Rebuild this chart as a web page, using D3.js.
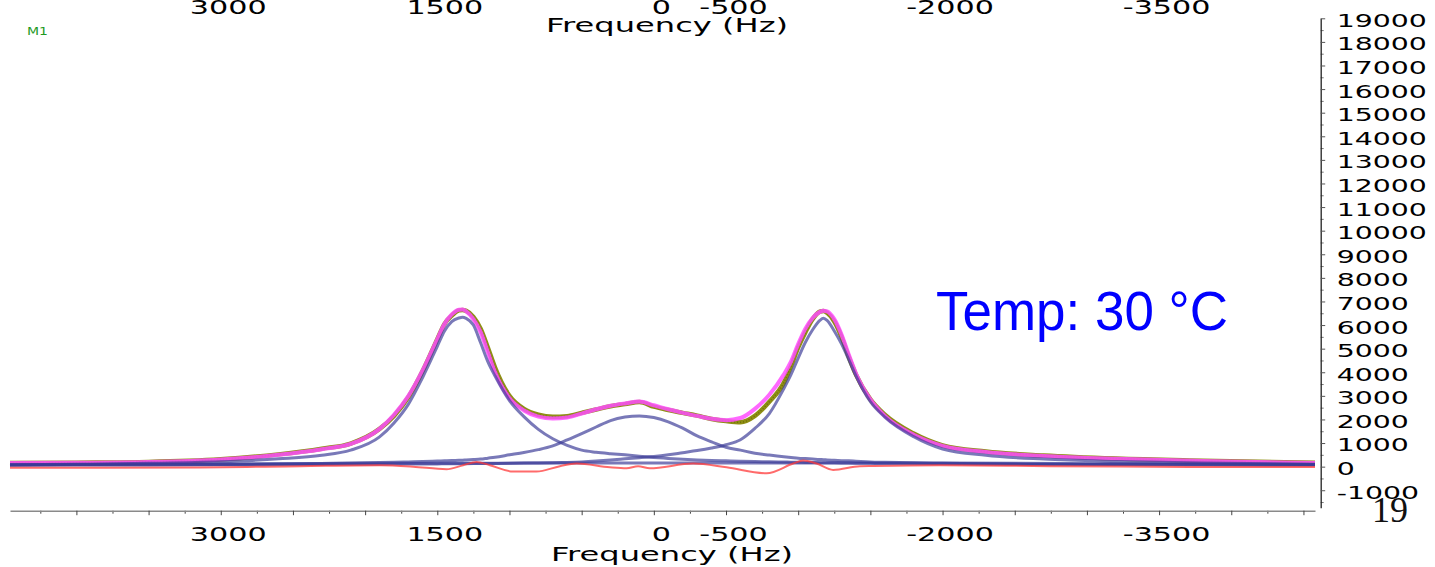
<!DOCTYPE html>
<html>
<head>
<meta charset="utf-8">
<script src="https://cdn.jsdelivr.net/npm/d3@7"></script>
<style>
  html, body { margin: 0; padding: 0; background: #fff; }
  svg { display: block; }
</style>
</head>
<body>
<svg id="chart" width="1435" height="567"></svg>
<script>
// frequency grid (Hz) shared by data, fit and the three peaks
const freqHz = [4460, 4000, 3500, 3000, 2600, 2300, 2100, 1900, 1800, 1700, 1600, 1500,
  1450, 1400, 1350, 1325, 1300, 1250, 1200, 1150, 1100, 1000, 900, 800, 700, 600, 500,
  400, 300, 200, 100, 0, -100, -200, -300, -400, -500, -600, -700, -800, -900, -950,
  -1000, -1050, -1100, -1150, -1175, -1200, -1250, -1300, -1350, -1400, -1500, -1600,
  -1800, -2000, -2300, -2700, -3200, -3800, -4580];

const dataVals = [150, 170, 200, 310, 520, 760, 980, 1600, 2150, 2950, 4070, 5400,
  6050, 6400, 6620, 6640, 6600, 6350, 5850, 5050, 4200, 3000, 2450, 2200, 2110, 2140, 2280,
  2420, 2560, 2650, 2740, 2540, 2400, 2280, 2160, 2020, 1930, 1880, 2150, 2750, 3550, 4250,
  5050, 5700, 6250, 6570, 6600, 6520, 6150, 5500, 4650, 3900, 2850, 2200,
  1400, 900, 640, 470, 340, 250, 160];

const fitVals = [150, 165, 195, 300, 500, 740, 960, 1600, 2200, 3000, 4100, 5400,
  6050, 6450, 6650, 6660, 6580, 6250, 5700, 4850, 4000, 2900, 2380, 2120, 2040, 2080, 2250,
  2430, 2580, 2680, 2760, 2600, 2430, 2280, 2150, 2030, 1970, 2060, 2450, 3050, 3900, 4450,
  5200, 5850, 6300, 6560, 6610, 6580, 6250, 5600, 4750, 3950, 2850, 2150,
  1350, 880, 620, 450, 330, 240, 150];

const peakLeft = [80, 100, 140, 210, 330, 480, 700, 1260, 1850, 2650, 3800, 5100,
  5750, 6150, 6300, 6330, 6280, 6000, 5250, 4450, 3840, 2800, 2120, 1580, 1180, 900, 700,
  610, 550, 500, 440, 390, 350, 310, 280, 260, 245, 230, 220, 205, 195, 190,
  185, 180, 175, 170, 168, 165, 160, 155, 150, 146, 140, 134,
  125, 118, 110, 102, 95, 88, 80];

const peakRight = [60, 65, 72, 80, 88, 95, 100, 105, 108, 111, 114, 117,
  119, 121, 123, 124, 125, 128, 131, 134, 137, 143, 150, 158, 168, 180, 200,
  235, 280, 330, 380, 430, 500, 590, 680, 790, 930, 1140, 1620, 2250, 3300, 3900,
  4600, 5270, 5800, 6200, 6290, 6200, 5750, 5200, 4540, 3850, 2750, 2100,
  1270, 750, 480, 320, 220, 150, 100];

const peakCenter = [70, 75, 85, 95, 110, 130, 150, 175, 185, 200, 215, 235,
  245, 255, 270, 275, 285, 300, 320, 360, 400, 500, 600, 720, 880, 1130, 1400,
  1680, 1950, 2100, 2150, 2080, 1900, 1630, 1300, 1050, 820, 700, 570, 490, 420, 390,
  360, 340, 320, 300, 295, 285, 270, 255, 245, 230, 200, 185,
  160, 140, 120, 100, 90, 80, 70];

const baselineHz = [4460, 3000, 1900, 600, -1000, -2000, -3200, -4580];
const baselineVals = [80, 115, 140, 150, 152, 150, 125, 90];

const residHz = [4460, 3150, 2450, 1900, 1667, 1436, 1321, 1228, 1136, 975, 813, 651, 535,
  305, 189, 109, 28, -272, -504, -781, -965, -1034, -1127, -1242, -1427, -1519, -1981,
  -2743, -3713, -4580];
const residVals = [-45, -35, 20, 60, 0, -110, 60, 200, 60, -210, -210, 20, 130,
  -30, -70, 20, -70, 130, -30, -280, 130, 260, 130, -140, 20, 30, 60,
  20, -10, -20];

const xMajorTicks = d3.range(4000, -4501, -500);
const xMinorTicks = d3.range(4250, -4501, -500);
const xLabelled = [3000, 1500, 0, -500, -2000, -3500];
const yMajorTicks = d3.range(-1000, 19001, 1000);
const yMinorTicks = d3.range(-1500, 19000, 1000);

const W = 1435, H = 567;
const svg = d3.select("#chart");
svg.append("rect").attr("width", W).attr("height", H).attr("fill", "#fff");

const x = d3.scaleLinear().domain([4460, -4580]).range([10, 1315]);
const y = d3.scaleLinear().domain([-1740, 19000]).range([507.7, 18.3]);

const line = d3.line()
  .x(d => x(d[0]))
  .y(d => y(d[1]))
  .curve(d3.curveMonotoneX);
const zip = (hz, vals) => hz.map((f, i) => [f, vals[i]]);
const plain = d => String(d);   // keep ascii hyphen for negatives

const plot = svg.append("g");

// data (olive), fit (magenta)
plot.append("path").datum(zip(freqHz, dataVals))
  .attr("d", line).attr("fill", "none")
  .attr("stroke", "#8e8e14").attr("stroke-width", 4.5);
plot.append("path").datum(zip(freqHz, dataVals))
  .attr("d", line).attr("fill", "none")
  .attr("stroke", "#5a5a00").attr("stroke-width", 1.5)
  .attr("stroke-dasharray", "1 2").attr("opacity", 0.6);
plot.append("path").datum(zip(freqHz, fitVals))
  .attr("d", line).attr("fill", "none")
  .attr("stroke", "#ff4dff").attr("stroke-width", 4).attr("opacity", 0.85);

// components
[peakLeft, peakRight, peakCenter].forEach(vals => {
  plot.append("path").datum(zip(freqHz, vals))
    .attr("d", line).attr("fill", "none")
    .attr("stroke", "#3a3a96").attr("stroke-width", 3).attr("opacity", 0.68);
});
plot.append("path").datum(zip(baselineHz, baselineVals))
  .attr("d", line).attr("fill", "none")
  .attr("stroke", "#3a3a96").attr("stroke-width", 3).attr("opacity", 0.68);

// residual
plot.append("path").datum(zip(residHz, residVals))
  .attr("d", line).attr("fill", "none")
  .attr("stroke", "#ff3a3a").attr("stroke-width", 2).attr("opacity", 0.75);

// bottom axis
const axisY = 510.7;
const fmtX = d => xLabelled.includes(d) ? plain(d) : "";
svg.append("g").attr("transform", `translate(0,${axisY})`)
  .call(d3.axisBottom(x).tickValues(xMinorTicks).tickSize(3).tickSizeOuter(0).tickFormat(""))
  .call(g => g.select(".domain").remove())
  .call(g => g.selectAll("line").attr("stroke", "#444"));
const xAx = svg.append("g").attr("transform", `translate(0,${axisY})`)
  .call(d3.axisBottom(x).tickValues(xMajorTicks).tickSize(4.5).tickSizeOuter(0).tickPadding(12).tickFormat(fmtX));
xAx.select(".domain").attr("stroke", "#8a8a8a").attr("stroke-width", 1.6);
xAx.selectAll("line").attr("stroke", "#444");
xAx.selectAll("text")
  .attr("font-family", "DejaVu Sans").attr("font-size", 19).attr("fill", "#000")
  .attr("transform", "scale(1.59,1)").attr("x", 7 / 1.59).attr("dy", "0.71em");

// top axis labels (its line is out of view)
const xTop = svg.append("g").attr("transform", "translate(0,17)")
  .call(d3.axisTop(x).tickValues(xLabelled).tickSize(0).tickPadding(3).tickFormat(plain));
xTop.select(".domain").remove();
xTop.selectAll("text")
  .attr("font-family", "DejaVu Sans").attr("font-size", 19).attr("fill", "#000")
  .attr("transform", "scale(1.59,1)").attr("x", 7 / 1.59);

// axis titles
[[667, 32], [672, 560.7]].forEach(([cx, by]) => {
  svg.append("text").attr("x", cx).attr("y", by)
    .attr("text-anchor", "middle")
    .attr("font-family", "DejaVu Sans").attr("font-size", 19)
    .attr("textLength", 242).attr("lengthAdjust", "spacingAndGlyphs")
    .text("Frequency (Hz)");
});

// right axis
const axisX = 1320.7;
svg.append("g").attr("transform", `translate(${axisX},0)`)
  .call(d3.axisRight(y).tickValues(yMinorTicks).tickSize(3).tickSizeOuter(0).tickFormat(""))
  .call(g => g.select(".domain").remove())
  .call(g => g.selectAll("line").attr("stroke", "#777"));
const yAx = svg.append("g").attr("transform", `translate(${axisX},0)`)
  .call(d3.axisRight(y).tickValues(yMajorTicks).tickSize(4.5).tickSizeOuter(0).tickPadding(11).tickFormat(plain));
yAx.select(".domain").attr("stroke", "#222").attr("stroke-width", 1.3);
yAx.selectAll("line").attr("stroke", "#555");
yAx.selectAll("text")
  .attr("font-family", "DejaVu Sans").attr("font-size", 17).attr("fill", "#000")
  .attr("transform", "scale(1.67,1)").attr("x", 16 / 1.67).attr("y", 2.5);

// annotations
svg.append("text").attr("x", 27).attr("y", 35)
  .attr("font-family", "DejaVu Sans").attr("font-size", 10).attr("fill", "#1f9a1f")
  .attr("textLength", 21).attr("lengthAdjust", "spacingAndGlyphs")
  .text("M1");

svg.append("text").attr("x", 936).attr("y", 330)
  .attr("font-family", "Liberation Sans, Arial, sans-serif").attr("font-size", 55)
  .attr("fill", "#0000ff")
  .attr("textLength", 292).attr("lengthAdjust", "spacingAndGlyphs")
  .text("Temp: 30 °C");

svg.append("text").attr("x", 1390).attr("y", 522)
  .attr("text-anchor", "middle")
  .attr("font-family", "Liberation Serif, Times New Roman, serif").attr("font-size", 36)
  .attr("fill", "#111")
  .text("19");
</script>
</body>
</html>
